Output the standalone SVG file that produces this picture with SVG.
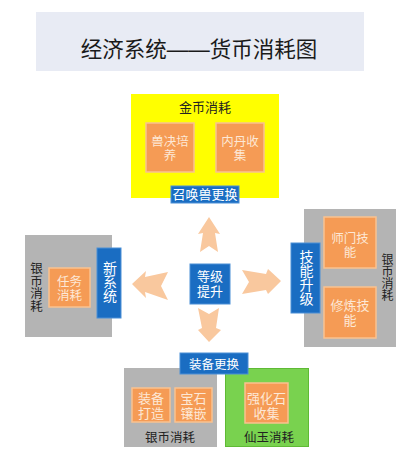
<svg xmlns="http://www.w3.org/2000/svg" width="403" height="462" viewBox="0 0 403 462">
<style>
text{font-family:"Liberation Sans","Noto Sans CJK SC",sans-serif;}
.og{fill:#f59b55;stroke:#f9c290;stroke-width:1.5;}
.gr{fill:#b4b4b4;}
.bl{fill:#1a6dc2;stroke:#4b8fd6;stroke-width:1;}
.wt{fill:#fde8d6;font-size:13px;text-anchor:middle;}
.bt{fill:#ffffff;font-size:13px;text-anchor:middle;}
.dk{fill:#222222;font-size:13px;text-anchor:middle;}
.vt{writing-mode:vertical-rl;text-anchor:middle;}
.ar{fill:#f9c89e;}
</style>
<rect width="403" height="462" fill="#ffffff"/>
<g id="title">
<rect x="36" y="12" width="328" height="59" fill="#e8ebf4"/>
<text x="199" y="57" style="font-size:21.5px;text-anchor:middle;fill:#1a1a1a">经济系统——货币消耗图</text>
</g>
<g id="gold">
<rect x="131" y="94" width="148" height="104" fill="#ffff00"/>
<text class="dk" x="205" y="112">金币消耗</text>
<rect class="og" x="146" y="123" width="48" height="49"/>
<text class="wt" x="170" y="146" style="font-size:12.5px">兽决培<tspan x="170" dy="14">养</tspan></text>
<rect class="og" x="216" y="123" width="48" height="49"/>
<text class="wt" x="240" y="146" style="font-size:12.5px">内丹收<tspan x="240" dy="14">集</tspan></text>
</g>
<g id="summon">
<rect class="bl" x="171" y="186" width="68" height="17"/>
<text class="bt" x="205" y="199">召唤兽更换</text>
</g>
<g id="left">
<rect class="gr" x="25" y="235" width="87" height="102"/>
<text class="dk vt" x="35" y="287" style="font-size:12.5px">银币消耗</text>
<rect class="og" x="49" y="268" width="41" height="39"/>
<text class="wt" x="69.5" y="286" style="font-size:12.5px">任务<tspan x="69.5" dy="14">消耗</tspan></text>
</g>
<g id="newsys">
<rect class="bl" x="97" y="248" width="24" height="70"/>
<text class="bt vt" x="109" y="282" style="font-size:14px">新系统</text>
</g>
<g id="right">
<rect class="gr" x="304" y="209" width="92" height="138"/>
<rect class="og" x="324" y="217" width="52" height="51"/>
<text class="wt" x="350" y="243" style="font-size:12.5px">师门技<tspan x="350" dy="14">能</tspan></text>
<rect class="og" x="324" y="287" width="52" height="51"/>
<text class="wt" x="350" y="310">修炼技<tspan x="350" dy="15">能</tspan></text>
<text class="dk vt" x="386" y="277" style="font-size:12px">银币消耗</text>
</g>
<g id="skill">
<rect class="bl" x="291" y="243" width="29" height="70"/>
<text class="bt vt" x="305.5" y="278" style="font-size:14px">技能升级</text>
</g>
<g id="center">
<rect class="bl" x="190" y="264" width="40" height="40"/>
<text class="bt" x="210" y="281">等级<tspan x="210" dy="15">提升</tspan></text>
</g>
<g id="bottom-silver">
<rect class="gr" x="124" y="368" width="93" height="79"/>
<rect class="og" x="132" y="388" width="38" height="34"/>
<text class="wt" x="151" y="403">装备<tspan x="151" dy="15">打造</tspan></text>
<rect class="og" x="175" y="388" width="37" height="34"/>
<text class="wt" x="193.5" y="403">宝石<tspan x="193.5" dy="15">镶嵌</tspan></text>
<text class="dk" x="170" y="442" style="font-size:12.5px">银币消耗</text>
</g>
<g id="bottom-jade">
<rect x="225.5" y="368.5" width="83" height="78" fill="#79d24f" stroke="#5fba35" stroke-width="1"/>
<rect class="og" x="245" y="383" width="43" height="40"/>
<text class="wt" x="266.5" y="403">强化石<tspan x="266.5" dy="15">收集</tspan></text>
<text class="dk" x="269" y="442" style="font-size:12.5px">仙玉消耗</text>
</g>
<g id="equip">
<rect class="bl" x="180" y="353" width="68" height="21"/>
<text class="bt" x="214" y="369" style="font-size:12.5px">装备更换</text>
</g>
<g id="connectors">
<polygon class="ar" points="209,217 220,234 215,233 218,252 209,246 200,252 203,233 198,234"/>
<polygon class="ar" points="198,308 209,314 219,308 216,328 221,330 209,342 198,330 202,328"/>
<polygon class="ar" points="132,284 146,271 145,277 168,272 161,286 168,300 145,292 146,298"/>
<polygon class="ar" points="242,270 249,282 242,294 266,290 268,294 281,281 268,269 266,274"/>
</g>
</svg>
